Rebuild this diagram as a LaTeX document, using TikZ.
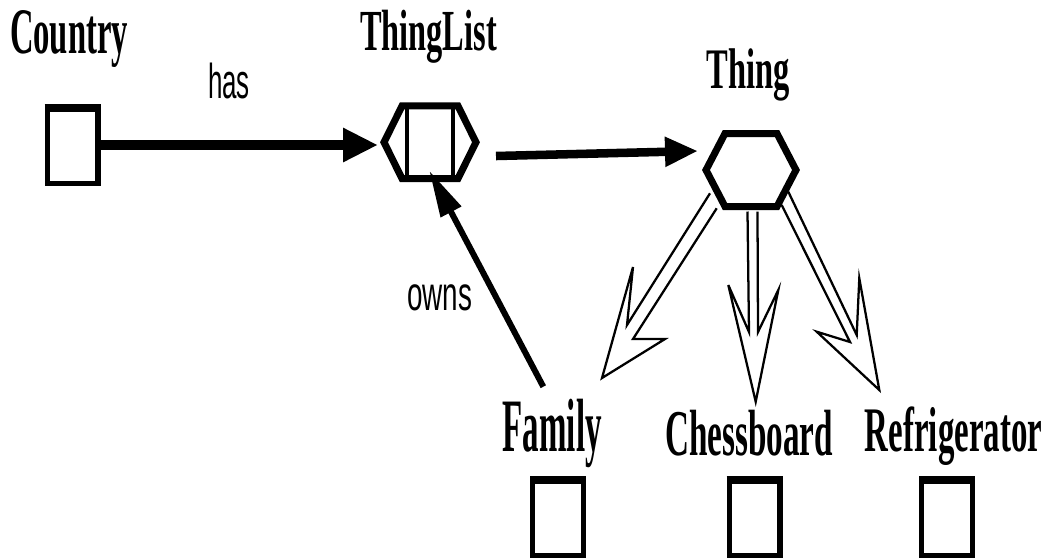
\documentclass[tikz,border=0pt]{standalone}
\usepackage{fontspec}
\setmainfont{Liberation Serif}
\newfontfamily\sansf{Liberation Sans}
\usetikzlibrary{arrows.meta,calc}
\newcommand\biglbl[3]{\scalebox{#2}[1]{\fontsize{#1}{#1}\selectfont\bfseries #3}}
\newcommand\smlbl[3]{\scalebox{#2}[1]{\sansf\fontsize{#1}{#1}\selectfont #3}}
\begin{document}
\begin{tikzpicture}[x=0.75pt,y=-0.75pt,
  box/.style={draw,line width=4.1pt,minimum width=37.9pt,minimum height=57.5pt,inner sep=0pt,outer sep=0pt},
  topedge/.style={line width=6pt},
  hexnode/.style={inner sep=0pt,outer sep=0pt},
  hexline/.style={line width=5.25pt,line join=miter},
  innerline/.style={line width=3.3pt},
  lbl/.style={anchor=base,inner sep=0pt},
  hasarrow/.style={line width=7.5pt,-{Triangle[length=26.25pt,width=24pt]}},
  linkarrow/.style={line width=6.4pt,-{Triangle[length=24.75pt,width=21pt]}},
  ownsarrow/.style={line width=4.5pt,-{Triangle[length=35pt,width=16.5pt]}},
  hollow/.style={line width=1.7pt,line join=miter}
]
\useasboundingbox (0,0) rectangle (1050,558);

% labels
\node[lbl] (countrylbl) at (69,53) {\biglbl{48.7pt}{0.503}{Country}};
\node[lbl] (thinglistlbl) at (428.5,50) {\biglbl{43.6pt}{0.557}{ThingList}};
\node[lbl] (thinglbl) at (748.5,88.3) {\biglbl{43pt}{0.567}{Thing}};
\node[lbl] (familylbl) at (552.2,451.7) {\biglbl{56.6pt}{0.437}{Family}};
\node[lbl] (chesslbl) at (749,455) {\biglbl{49pt}{0.508}{Chessboard}};
\node[lbl] (fridgelbl) at (953.5,451.7) {\biglbl{47.6pt}{0.518}{Refrigerator}};
\node[lbl] (haslbl) at (229,98) {\smlbl{36.75pt}{0.53}{has}};
\node[lbl] (ownslbl) at (439.5,310) {\smlbl{36pt}{0.58}{owns}};

% boxes
\node[box] (countrybox) at (72.5,145) {};
\node[box] (familybox) at (558,516.9) {};
\node[box] (chessbox) at (754.7,516.9) {};
\node[box] (fridgebox) at (947,516.9) {};
\foreach \b in {countrybox,familybox,chessbox,fridgebox}
  \draw[topedge] ($(\b.north west)+(-2.7,1.2)$) -- ($(\b.north east)+(2.7,1.2)$);

% ThingList hexagon
\node[hexnode,minimum width=69pt,minimum height=54.4pt] (tl) at (430,142.25) {};
\draw[hexline] (tl.west) -- ($(tl.north west)+(18,0)$) -- ($(tl.north east)+(-18,0)$)
  -- (tl.east) -- ($(tl.south east)+(-18,0)$) -- ($(tl.south west)+(18,0)$) -- cycle;
\draw[innerline] ($(tl.north west)+(23,0)$) -- ($(tl.south west)+(23,0)$);
\draw[innerline] ($(tl.north east)+(-23,0)$) -- ($(tl.south east)+(-23,0)$);

% Thing hexagon
\node[hexnode,minimum width=67.5pt,minimum height=54.75pt] (thing) at (751,170) {};
\draw[hexline] (thing.west) -- ($(thing.north west)+(19,0)$) -- ($(thing.north east)+(-19,0)$)
  -- (thing.east) -- ($(thing.south east)+(-19,0)$) -- ($(thing.south west)+(19,0)$) -- cycle;

% connectors
\draw[hasarrow,shorten >=4.5pt] (countrybox.east) -- (countrybox.east -| tl.west);
\coordinate (tlout) at (496,156);
\coordinate (thingin) at (698,151);
\draw[linkarrow] (tlout) -- (thingin);
\coordinate (ownsfrom) at (543.3,386.7);
\coordinate (ownsto) at (429.3,170.7);
\draw[ownsarrow] (ownsfrom) -- (ownsto);

% hollow inheritance arrows
\draw[hollow] (710,193.3) -- (627,325) -- (633,267) -- (602,378) -- (665,339) -- (633,339) -- (716.7,208.3);
\draw[hollow] (747.5,211.5) -- (749,332) -- (728.3,285) -- (755.7,401.7) -- (778.3,290) -- (758,332) -- (757.5,211.5);
\draw[hollow] (781.7,205) -- (850,342) -- (816.7,331.7) -- (879.3,390) -- (859.3,278.3) -- (856.7,335) -- (788.3,191.7);
\end{tikzpicture}
\end{document}
